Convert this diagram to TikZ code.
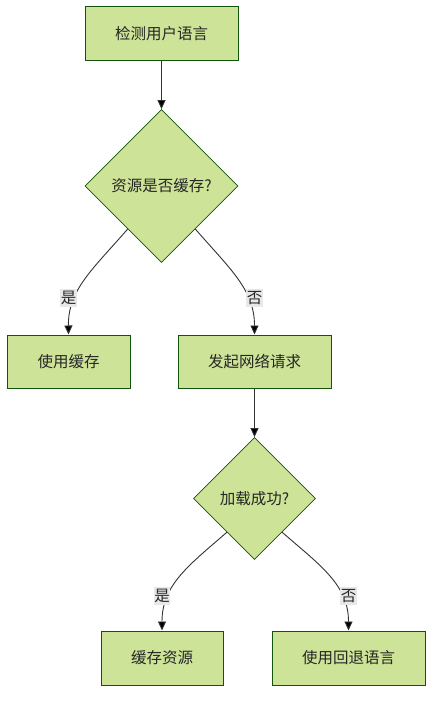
\documentclass[tikz,border=0pt]{standalone}
\usepackage{fontspec}
\newfontfamily\cjk{Noto Sans CJK SC}
\usetikzlibrary{shapes.geometric,arrows.meta,calc}
\definecolor{nodefill}{HTML}{CDE498}
\definecolor{nodeline}{HTML}{13540C}
\definecolor{edgecol}{HTML}{333333}
\definecolor{lblbg}{HTML}{E8E8E8}
\tikzset{
  txt/.style={font=\cjk\fontsize{15.5pt}{18pt}\selectfont, text=black!85},
  box/.style={txt, draw=nodeline, fill=nodefill, line width=1pt, minimum width=#1, minimum height=54pt, inner sep=0pt},
  dia/.style={txt, draw=nodeline, fill=nodefill, line width=0.8pt, diamond, aspect=1, minimum width=#1, minimum height=#1, inner sep=0pt},
  edge/.style={draw=edgecol, line width=0.9pt, -{Stealth[length=9pt,width=8pt,inset=0pt,fill=black]}},
  lbl/.style={txt, fill=lblbg, inner xsep=0.5pt, inner ysep=2pt}
}
\begin{document}
\begin{tikzpicture}[x=1pt,y=-1pt]
\useasboundingbox (0,0) rectangle (441,706);
\node[box=153pt] (a) at (161.5,34) {检测用户语言};
\node[dia=153pt] (b) at (161.5,186) {资源是否缓存?};
\node[box=123pt, minimum height=53pt] (c) at (68.5,361.5) {使用缓存};
\node[box=153pt, minimum height=53pt] (d) at (254.5,361.5) {发起网络请求};
\node[dia=122pt] (e) at (254.5,498.5) {加载成功?};
\node[box=122pt] (f) at (162,658) {缓存资源};
\node[box=153pt] (g) at (348.5,658) {使用回退语言};

\draw[edge] (a) -- (b);
\draw[edge] (d) -- (e);

\coordinate (b1) at ($(b.west)!0.56!(b.south)$);
\coordinate (b2) at ($(b.east)!0.56!(b.south)$);
\draw[edge] (b1) .. controls (92,270) and (68,290) .. (c.north);
\draw[edge] (b2) .. controls (231,270) and (254.5,290) .. (d.north);
\node[lbl] (l1) at (68.5,298) {是};
\node[lbl] (l2) at (254.5,298) {否};

\coordinate (e1) at ($(e.west)!0.55!(e.south)$);
\coordinate (e2) at ($(e.east)!0.55!(e.south)$);
\draw[edge] (e1) .. controls (188,566) and (162,585) .. (f.north);
\draw[edge] (e2) .. controls (321,566) and (348.5,585) .. (g.north);
\node[lbl] (l3) at (162,596) {是};
\node[lbl] (l4) at (348.5,596) {否};
\end{tikzpicture}
\end{document}
